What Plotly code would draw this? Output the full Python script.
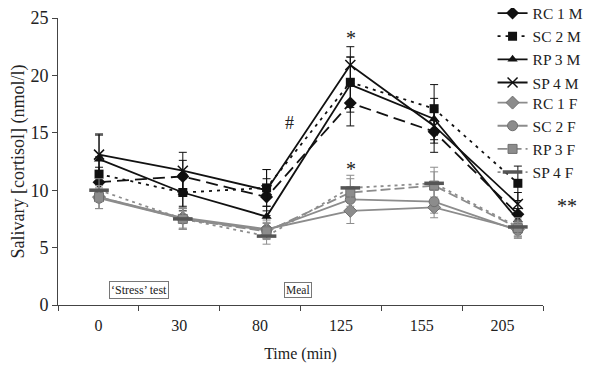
import plotly.graph_objects as go

times = ["0", "30", "80", "125", "155", "205"]

RC1M = [10.7, 11.2, 9.4, 17.6, 15.1, 7.9]
SC2M = [11.4, 9.8, 10.2, 19.4, 17.1, 10.6]
RP3M = [12.7, 9.8, 7.7, 19.2, 16.2, 7.4]
SP4M = [13.1, 11.7, 10.0, 20.9, 15.6, 8.8]
RC1F = [9.4, 7.6, 6.6, 8.2, 8.5, 6.6]
SC2F = [9.3, 7.5, 6.5, 9.2, 9.0, 6.5]
RP3F = [9.4, 7.5, 6.4, 9.8, 10.4, 6.7]
SP4F = [10.0, 7.5, 6.0, 10.2, 10.6, 6.8]

RC1M_err = [1.3, 1.4, 1.6, 2.0, 1.8, 1.2]
SC2M_err = [1.5, 1.6, 1.6, 2.2, 2.1, 1.5]
RP3M_err = [2.1, 1.2, 0.9, 2.4, 1.8, 1.0]
SP4M_err = [1.8, 1.6, 1.8, 1.6, 1.5, 1.0]
RC1F_err = [1.0, 0.9, 0.8, 1.1, 0.9, 0.7]
SC2F_err = [0.9, 0.9, 0.7, 1.1, 1.0, 0.7]
RP3F_err = [1.0, 0.9, 0.7, 1.2, 1.2, 0.7]
SP4F_err = [1.0, 0.9, 0.7, 1.1, 1.4, 0.8]

BLACK = "#111111"
GREY = "#8c8c8c"
DGREY = "#555555"

series = [
    ("RC 1 M", RC1M, RC1M_err, BLACK, "12px,6px", dict(symbol="diamond", size=10, color=BLACK), "legend"),
    ("SC 2 M", SC2M, SC2M_err, BLACK, "3px,5px", dict(symbol="square", size=9, color=BLACK), "legend"),
    ("RP 3 M", RP3M, RP3M_err, BLACK, "solid", dict(symbol="triangle-up", size=9, color=BLACK), "legend"),
    ("SP 4 M", SP4M, SP4M_err, BLACK, "solid", dict(symbol="x-thin", size=10, color=BLACK, line=dict(color=BLACK, width=1.5)), "legend"),
    ("RC 1 F", RC1F, RC1F_err, GREY, "solid", dict(symbol="diamond", size=10, color=GREY, line=dict(color="#6e6e6e", width=1)), "legend2"),
    ("SC 2 F", SC2F, SC2F_err, GREY, "solid", dict(symbol="circle", size=10, color=GREY, line=dict(color="#6e6e6e", width=1)), "legend2"),
    ("RP 3 F", RP3F, RP3F_err, GREY, "10px,4px", dict(symbol="square", size=9, color=GREY, line=dict(color="#6e6e6e", width=1)), "legend2"),
    ("SP 4 F", SP4F, SP4F_err, GREY, "3px,4px", dict(symbol="line-ew", size=14, color=DGREY, line=dict(color=DGREY, width=3.5)), "legend2"),
]

fig = go.Figure()
# invisible trace so the labelled category axis is drawn
fig.add_trace(go.Scatter(x=times, y=[None] * len(times), showlegend=False,
                         hoverinfo="skip", mode="lines", xaxis="x", yaxis="y"))
for name, vals, err, col, dash, mk, lg in series:
    fig.add_trace(go.Scatter(
        x=times, y=vals, name=name, mode="lines+markers",
        xaxis="x2", yaxis="y", legend=lg,
        line=dict(color=col, width=1.8, dash=dash),
        marker=mk,
        error_y=dict(type="data", array=err, visible=True, color=col, thickness=1, width=4),
    ))

font = "Liberation Serif, Times New Roman, serif"
leg_common = dict(xref="paper", yref="paper", x=0.896, xanchor="left", yanchor="top",
                  font=dict(family=font, size=15.5, color="#222"),
                  bgcolor="rgba(0,0,0,0)", tracegroupgap=0)

fig.update_layout(
    width=600, height=370,
    margin=dict(l=50, r=65, t=10, b=73, autoexpand=False),
    paper_bgcolor="white", plot_bgcolor="white",
    font=dict(family=font, size=15, color="#222"),
    showlegend=True,
    legend=dict(y=1.075, **leg_common),
    legend2=dict(y=0.763, **leg_common),
    xaxis=dict(
        type="category", categoryorder="array", categoryarray=times,
        range=[-0.5, 5.5], tickson="boundaries",
        showline=True, linecolor="#444", linewidth=1,
        ticks="outside", ticklen=5, tickcolor="#444",
        ticklabelstandoff=6,
        showgrid=False, zeroline=False, automargin=False,
        title=dict(text="Time (min)", font=dict(size=16), standoff=14),
        tickfont=dict(size=16),
    ),
    xaxis2=dict(
        type="category", categoryorder="array", categoryarray=times,
        overlaying="x", range=[-0.49, 5.30], visible=False, automargin=False,
    ),
    yaxis=dict(
        range=[0, 25], tickvals=[0, 5, 10, 15, 20, 25],
        showline=True, linecolor="#444", linewidth=1,
        ticks="outside", ticklen=5, tickcolor="#444",
        showgrid=False, zeroline=False, automargin=False,
        title=dict(text="Salivary [cortisol] (nmol/l)", font=dict(size=18), standoff=4),
        tickfont=dict(size=18),
    ),
)

box = dict(bordercolor="#777", borderwidth=1, borderpad=1, bgcolor="white")
ann_font = dict(family=font, color="#222")
fig.add_annotation(text="‘Stress’ test", xref="paper", yref="paper", x=0.166, y=0.051,
                   xanchor="center", yanchor="middle",
                   showarrow=False, font=dict(size=12, **ann_font), **box)
fig.add_annotation(text="Meal", xref="paper", yref="paper", x=0.495, y=0.051,
                   xanchor="center", yanchor="middle",
                   showarrow=False, font=dict(size=11.5, **ann_font), **box)
fig.add_annotation(text="#", xref="paper", yref="paper", x=0.478, y=0.634,
                   xanchor="center", yanchor="middle",
                   showarrow=False, font=dict(size=18, **ann_font))
fig.add_annotation(text="*", xref="paper", yref="paper", x=0.604, y=0.93,
                   xanchor="center", yanchor="middle",
                   showarrow=False, font=dict(size=20, **ann_font))
fig.add_annotation(text="*", xref="paper", yref="paper", x=0.604, y=0.475,
                   xanchor="center", yanchor="middle",
                   showarrow=False, font=dict(size=20, **ann_font))
fig.add_annotation(text="**", xref="paper", yref="paper", x=1.05, y=0.345,
                   xanchor="center", yanchor="middle",
                   showarrow=False, font=dict(size=20, **ann_font))

fig.write_html("out.html")
